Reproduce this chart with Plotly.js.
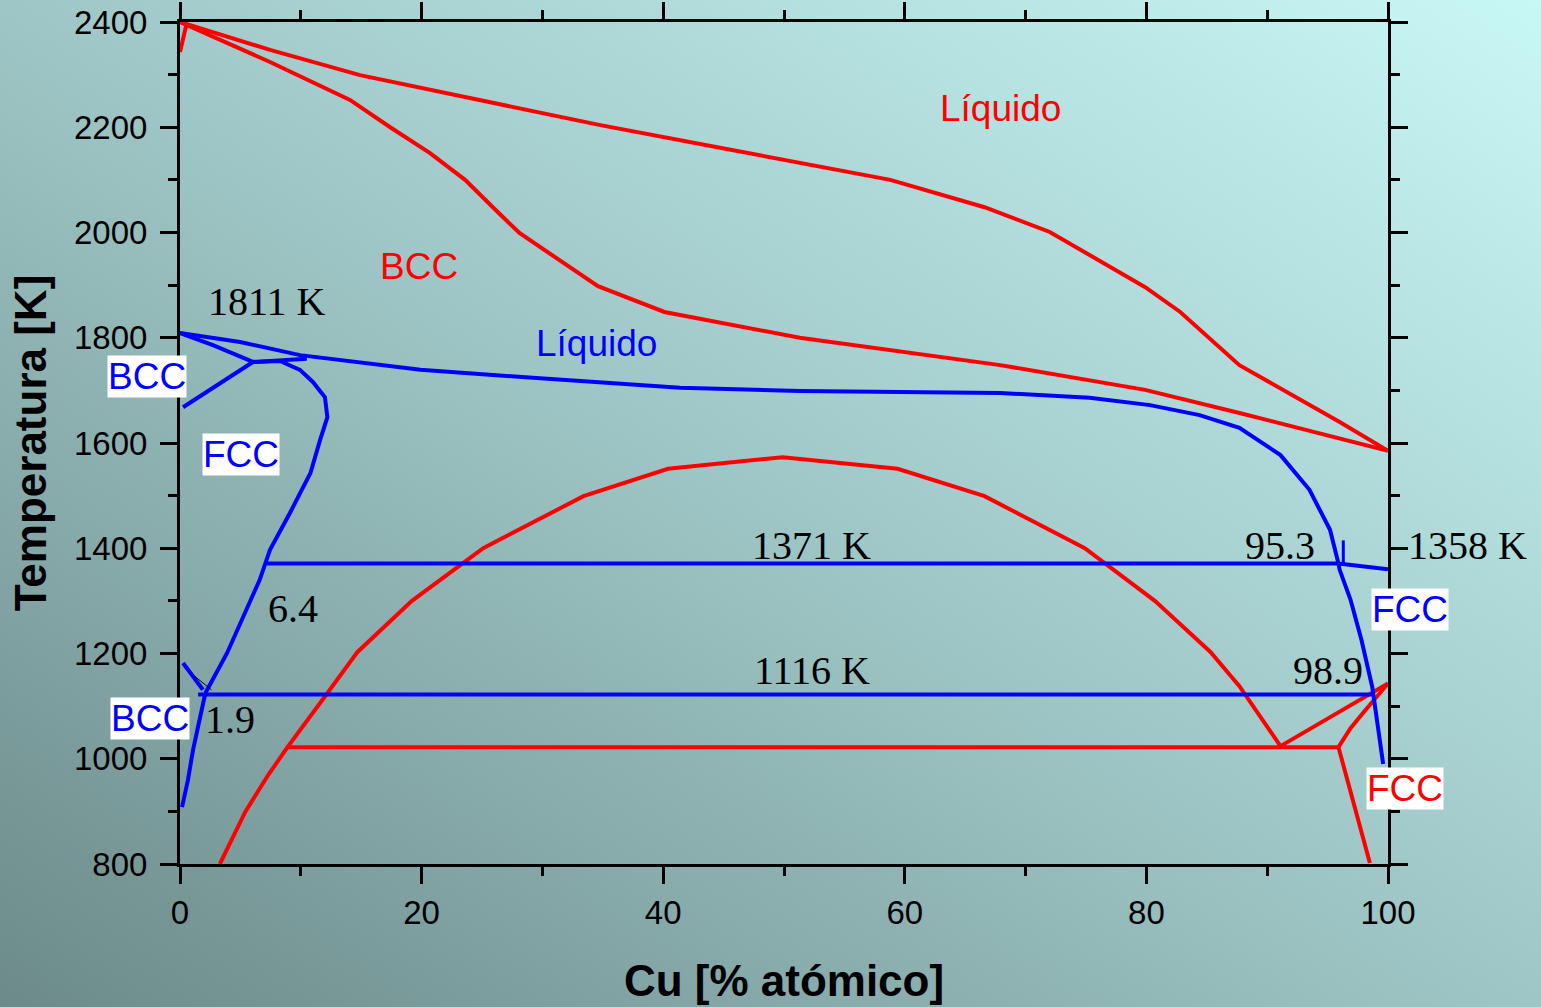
<!DOCTYPE html>
<html>
<head>
<meta charset="utf-8">
<script src="https://cdn.plot.ly/plotly-3.0.1.min.js"></script>
<style>
html,body{margin:0;padding:0;width:1541px;height:1007px;overflow:hidden;}
body{background:linear-gradient(to top right,#6c8a8a 0%,#9fc6c6 50%,#c8f8f6 100%);}
#chart{width:1541px;height:1007px;}
</style>
</head>
<body>
<div id="chart"></div>
<script>
// ---- Red system ----
const redLiqX = [0, 7.45, 14.9, 24.8, 34.8, 44.7, 58.8, 66.6, 72.0, 79.9, 82.8, 87.7, 92.7, 96.0, 100];
const redLiqT = [2400, 2347, 2299, 2252, 2204, 2161, 2100, 2048, 2001, 1896, 1849, 1748, 1682, 1640, 1585];
const redSolX = [0, 7.45, 14.07, 17.4, 20.7, 23.6, 25.9, 28.1, 34.6, 40.1, 51.3, 67.9, 79.9, 87.7, 100];
const redSolT = [2400, 2324, 2252, 2200, 2151, 2100, 2048, 1999, 1898, 1849, 1800, 1748, 1701, 1657, 1585];
const redSpikeX = [0.55, 0];
const redSpikeT = [2397, 2343];
const redDomeX = [3.3, 5.4, 7.3, 8.9, 11.6, 14.7, 19.2, 25.1, 33.4, 40.4, 49.9, 59.4, 66.6, 74.9, 80.7, 85.3, 87.7, 89.5, 91.1];
const redDomeT = [800, 899, 969, 1022, 1106, 1203, 1300, 1400, 1499, 1551, 1573, 1551, 1499, 1400, 1300, 1203, 1138, 1077, 1024];
const redEutX = [8.9, 95.9];
const redEutT = [1022, 1022];
const redVX = [91.1, 100];
const redVT = [1024, 1143];
const redFccTopX = [95.9, 96.9, 98.0, 100];
const redFccTopT = [1022, 1058, 1089, 1143];
const redFccLowX = [95.9, 97.3, 98.5];
const redFccLowT = [1022, 903, 802];

// ---- Blue system ----
const blueLiqX = [0, 4.97, 9.93, 19.9, 29.8, 41.4, 51.3, 67.9, 75.3, 80.3, 84.4, 87.7, 91.1, 93.5, 95.2, 95.9];
const blueLiqT = [1809, 1792, 1767, 1739, 1723, 1705, 1699, 1695, 1686, 1672, 1653, 1629, 1577, 1511, 1435, 1371];
const blueCuLiqX = [95.9, 100];
const blueCuLiqT = [1371, 1360];
const blueFccRX = [95.9, 96.0, 96.9, 97.8, 98.7, 99.2, 99.6];
const blueFccRT = [1371, 1359, 1302, 1226, 1136, 1060, 990];
const blueSpikeX = [96.3, 96.3];
const blueSpikeT = [1372, 1415];
const blueBccSolX = [0, 2.73, 6.04];
const blueBccSolT = [1809, 1786, 1754];
const blueBccLowX = [6.04, 2.73, 0.25];
const blueBccLowT = [1754, 1706, 1668];
const blueFccLX = [6.04, 8.28, 9.93, 11.0, 12.0, 12.2, 11.6, 10.8, 9.1, 7.45, 6.6, 5.2, 4.4, 3.9, 2.7, 2.1];
const blueFccLT = [1754, 1756, 1739, 1716, 1687, 1649, 1606, 1543, 1467, 1397, 1340, 1269, 1226, 1201, 1150, 1125];
const bluePeriX = [6.04, 10.5];
const bluePeriT = [1754, 1760];
const blueBccAlphaX = [2.1, 1.66, 1.08, 0.66, 0.17];
const blueBccAlphaT = [1125, 1079, 1017, 960, 908];
const blueA3X = [0.25, 1.9];
const blueA3T = [1182, 1131];
const blackThinX = [1.2, 2.6];
const blackThinT = [1157, 1131];
const blueIso1X = [7.2, 95.9];
const blueIso1T = [1371, 1371];
const blueIso2X = [1.5, 98.7];
const blueIso2T = [1122, 1122];

const RED = '#ff0000', BLUE = '#0000ff';
function ln(x, y, c, w) {
  return {x: x, y: y, type: 'scatter', mode: 'lines', line: {color: c, width: w || 4}, hoverinfo: 'skip', showlegend: false};
}
const traces = [
  ln(redLiqX, redLiqT, RED), ln(redSolX, redSolT, RED), ln(redSpikeX, redSpikeT, RED),
  ln(redDomeX, redDomeT, RED), ln(redEutX, redEutT, RED), ln(redVX, redVT, RED),
  ln(redFccTopX, redFccTopT, RED), ln(redFccLowX, redFccLowT, RED),
  ln(blueLiqX, blueLiqT, BLUE), ln(blueCuLiqX, blueCuLiqT, BLUE), ln(blueFccRX, blueFccRT, BLUE),
  ln(blueSpikeX, blueSpikeT, BLUE, 3),
  ln(blueBccSolX, blueBccSolT, BLUE), ln(blueBccLowX, blueBccLowT, BLUE), ln(blueFccLX, blueFccLT, BLUE),
  ln(bluePeriX, bluePeriT, BLUE), ln(blueBccAlphaX, blueBccAlphaT, BLUE), ln(blueA3X, blueA3T, BLUE),
  ln(blackThinX, blackThinT, '#000000', 1),
  ln(blueIso1X, blueIso1T, BLUE), ln(blueIso2X, blueIso2T, BLUE)
];

const SANS = 'Liberation Sans, Arial, sans-serif';
const SERIF = 'Liberation Serif, Times New Roman, serif';
// label positions in paper fractions so that labels beyond the axis range stay visible
function px(x) { return x / 100; }
function py(t) { return (t - 800) / 1600; }
function sans(text, x, y, c, box) {
  const a = {text: text, x: px(x), y: py(y), xref: 'paper', yref: 'paper', showarrow: false,
    xanchor: 'center', yanchor: 'middle',
    font: {family: SANS, size: 37, color: c}};
  if (box) { a.bgcolor = '#ffffff'; a.borderpad = 0; }
  return a;
}
function serif(text, x, y) {
  return {text: text, x: px(x), y: py(y), xref: 'paper', yref: 'paper', showarrow: false,
    xanchor: 'center', yanchor: 'middle',
    font: {family: SERIF, size: 40, color: '#000000'}};
}
const annotations = [
  sans('Líquido', 67.9, 2236, RED),
  sans('BCC', 19.8, 1936, RED),
  serif('1811 K', 7.2, 1868),
  sans('Líquido', 34.5, 1790, BLUE),
  sans('BCC', -2.73, 1727, BLUE, true),
  sans('FCC', 5.05, 1579, BLUE, true),
  serif('1371 K', 52.3, 1406),
  serif('95.3', 91.1, 1406),
  serif('1358 K', 106.6, 1406),
  sans('FCC', 101.8, 1283, BLUE, true),
  serif('6.4', 9.35, 1286),
  serif('1116 K', 52.3, 1168),
  serif('98.9', 95.0, 1168),
  sans('BCC', -2.5, 1077, BLUE, true),
  serif('1.9', 4.1, 1075),
  sans('FCC', 101.4, 944, RED, true)
];

const axisCommon = {
  showgrid: false, zeroline: false, showline: true, linecolor: '#000', linewidth: 3,
  mirror: 'allticks', ticks: 'outside', ticklen: 17, tickwidth: 3, tickcolor: '#000',
  tickfont: {family: SANS, size: 33, color: '#000'}
};
const layout = {
  width: 1541, height: 1007,
  margin: {l: 180, r: 153, t: 22, b: 143, pad: 0},
  paper_bgcolor: 'rgba(0,0,0,0)', plot_bgcolor: 'rgba(0,0,0,0)',
  showlegend: false,
  xaxis: Object.assign({}, axisCommon, {
    range: [0, 100], dtick: 20, tick0: 0, ticklabelstandoff: 0,
    minor: {dtick: 10, ticks: 'outside', ticklen: 9, tickwidth: 3, tickcolor: '#000', showgrid: false},
    title: {text: 'Cu [% atómico]', font: {family: SANS, size: 44, color: '#000', weight: 'bold'}, standoff: 36}
  }),
  yaxis: Object.assign({}, axisCommon, {
    range: [800, 2400], dtick: 200, tick0: 800, ticklabelstandoff: 6,
    minor: {dtick: 100, ticks: 'outside', ticklen: 9, tickwidth: 3, tickcolor: '#000', showgrid: false},
    title: {text: 'Temperatura [K]', font: {family: SANS, size: 44, color: '#000', weight: 'bold'}, standoff: 14}
  }),
  annotations: annotations
};
Plotly.newPlot('chart', traces, layout, {staticPlot: true, displayModeBar: false});
</script>
</body>
</html>
